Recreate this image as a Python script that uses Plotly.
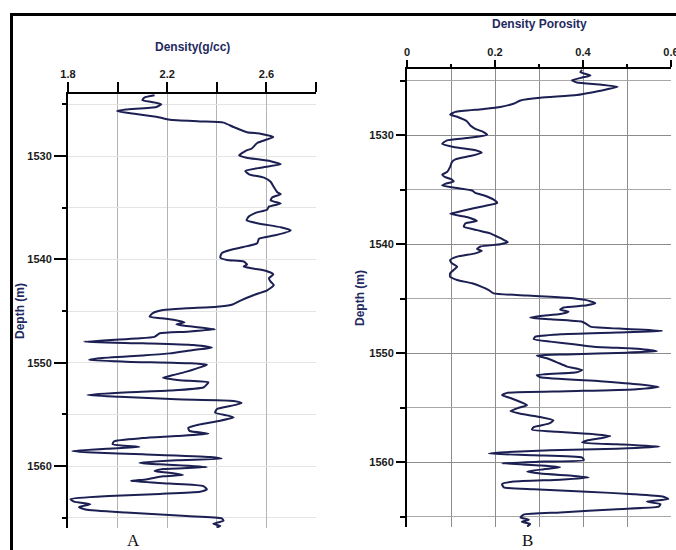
import plotly.graph_objects as go

# ---- Panel A: bulk density log ----
depth_a = [1524.13, 1524.35, 1524.6, 1524.77, 1525.0, 1525.26, 1525.5, 1525.65, 1525.84, 1526.2,
           1526.5, 1526.65, 1526.77, 1527.2, 1527.7, 1527.84, 1528.16, 1528.5, 1528.74, 1529.3,
           1529.45, 1529.94, 1530.16, 1530.5, 1530.8, 1531.13, 1531.45, 1531.77, 1532.1, 1532.5,
           1533.0, 1533.5, 1533.7, 1534.0, 1534.3, 1534.6, 1534.9, 1535.2, 1535.5, 1535.84,
           1536.2, 1536.5, 1536.9, 1537.2, 1537.7, 1538.0, 1538.45, 1538.8, 1539.1, 1539.4,
           1539.84, 1540.06, 1540.2, 1540.5, 1540.7, 1540.87, 1541.1, 1541.45, 1541.84, 1542.16,
           1542.5, 1543.0, 1543.45, 1543.94, 1544.4, 1544.6, 1544.74, 1544.9, 1545.2, 1545.55,
           1545.7, 1545.87, 1546.1, 1546.3, 1546.45, 1546.77, 1547.0, 1547.16, 1547.5, 1547.65,
           1547.97, 1548.13, 1548.3, 1548.55, 1548.77, 1549.1, 1549.3, 1549.58, 1549.74, 1549.9,
           1550.06, 1550.2, 1550.55, 1550.87, 1551.2, 1551.45, 1551.7, 1551.9, 1552.1, 1552.4,
           1552.7, 1552.9, 1553.13, 1553.3, 1553.55, 1553.7, 1553.9, 1554.2, 1554.5, 1554.84,
           1555.1, 1555.3, 1555.65, 1555.97, 1556.3, 1556.6, 1556.87, 1557.1, 1557.3, 1557.6,
           1557.9, 1558.16, 1558.3, 1558.55, 1558.7, 1558.87, 1559.13, 1559.3, 1559.45, 1559.7,
           1559.84, 1560.1, 1560.3, 1560.5, 1560.7, 1560.87, 1561.0, 1561.3, 1561.45, 1561.7,
           1561.94, 1562.26, 1562.5, 1562.7, 1562.9, 1563.2, 1563.45, 1563.7, 1563.97, 1564.2,
           1564.5, 1564.84, 1565.06, 1565.3, 1565.6, 1565.8, 1565.94]
density = [2.149, 2.108, 2.10, 2.136, 2.176, 2.156, 2.034, 1.997, 2.047, 2.156,
           2.21, 2.332, 2.427, 2.468, 2.522, 2.576, 2.628, 2.59, 2.563, 2.54,
           2.52, 2.49, 2.52, 2.617, 2.658, 2.576, 2.515, 2.53, 2.59, 2.617,
           2.63, 2.644, 2.658, 2.624, 2.617, 2.658, 2.61, 2.603, 2.556, 2.53,
           2.52, 2.563, 2.658, 2.698, 2.63, 2.57, 2.563, 2.508, 2.454, 2.42,
           2.414, 2.44, 2.508, 2.522, 2.508, 2.54, 2.597, 2.628, 2.61, 2.617,
           2.63, 2.603, 2.55, 2.50, 2.46, 2.40, 2.278, 2.183, 2.142, 2.129,
           2.176, 2.23, 2.27, 2.237, 2.278, 2.393, 2.278, 2.17, 2.149, 2.075,
           1.864, 2.10, 2.305, 2.38, 2.305, 2.21, 2.10, 1.925, 1.885, 2.034,
           2.29, 2.36, 2.32, 2.278, 2.224, 2.183, 2.25, 2.366, 2.36, 2.346,
           2.21, 2.007, 1.878, 2.007, 2.237, 2.468, 2.50, 2.454, 2.40, 2.393,
           2.44, 2.468, 2.407, 2.332, 2.285, 2.29, 2.366, 2.237, 2.10, 1.986,
           1.98, 2.088, 1.98, 1.817, 1.898, 2.10, 2.373, 2.42, 2.237, 2.088,
           2.17, 2.36, 2.183, 2.149, 2.224, 2.264, 2.183, 2.115, 2.054, 2.21,
           2.346, 2.36, 2.332, 2.17, 1.966, 1.81, 1.824, 1.89, 1.844, 1.87,
           2.034, 2.278, 2.42, 2.427, 2.386, 2.414, 2.40]

# ---- Panel B: density porosity log ----
depth_b = [1524.0, 1524.2, 1524.5, 1524.7, 1524.94, 1525.15, 1525.34, 1525.55, 1525.77, 1526.07,
           1526.3, 1526.56, 1526.8, 1527.1, 1527.4, 1527.6, 1527.85, 1528.1, 1528.3, 1528.7,
           1529.1, 1529.4, 1529.7, 1529.94, 1530.25, 1530.46, 1530.77, 1531.07, 1531.4, 1531.6,
           1531.9, 1532.2, 1532.45, 1532.9, 1533.37, 1533.6, 1533.83, 1534.05, 1534.23, 1534.45,
           1534.6, 1534.85, 1535.06, 1535.28, 1535.5, 1535.9, 1536.2, 1536.5, 1536.9, 1537.2,
           1537.5, 1537.85, 1538.07, 1538.38, 1538.7, 1539.0, 1539.3, 1539.6, 1539.8, 1540.0,
           1540.2, 1540.43, 1540.6, 1540.83, 1541.13, 1541.44, 1541.74, 1542.05, 1542.35, 1542.66,
           1542.97, 1543.27, 1543.58, 1543.9, 1544.2, 1544.5, 1544.7, 1544.9, 1545.1, 1545.4,
           1545.6, 1545.8, 1546.0, 1546.18, 1546.4, 1546.57, 1546.73, 1546.88, 1547.1, 1547.34,
           1547.55, 1547.77, 1547.95, 1548.1, 1548.26, 1548.47, 1548.7, 1548.93, 1549.17, 1549.4,
           1549.6, 1549.8, 1549.94, 1550.1, 1550.2, 1550.46, 1550.83, 1551.22, 1551.53, 1551.74,
           1552.0, 1552.2, 1552.56, 1552.87, 1553.1, 1553.32, 1553.48, 1553.63, 1553.84, 1554.1,
           1554.4, 1554.76, 1555.0, 1555.3, 1555.55, 1555.85, 1556.16, 1556.46, 1556.77, 1557.0,
           1557.2, 1557.38, 1557.6, 1557.8, 1558.0, 1558.2, 1558.35, 1558.57, 1558.75, 1558.9,
           1559.1, 1559.2, 1559.36, 1559.57, 1559.8, 1559.94, 1560.1, 1560.3, 1560.46, 1560.64,
           1560.85, 1561.04, 1561.25, 1561.4, 1561.6, 1561.77, 1562.0, 1562.3, 1562.47, 1562.7,
           1562.93, 1563.17, 1563.38, 1563.6, 1563.84, 1564.08, 1564.3, 1564.6, 1564.8, 1565.06,
           1565.27, 1565.46, 1565.67, 1565.9]
porosity = [0.398, 0.394, 0.417, 0.398, 0.375, 0.386, 0.439, 0.479, 0.455, 0.42,
            0.386, 0.303, 0.258, 0.242, 0.212, 0.17, 0.11, 0.098, 0.114, 0.136,
            0.144, 0.155, 0.174, 0.182, 0.136, 0.091, 0.08, 0.106, 0.159, 0.17,
            0.144, 0.11, 0.102, 0.098, 0.091, 0.08, 0.087, 0.102, 0.106, 0.087,
            0.08, 0.117, 0.148, 0.155, 0.174, 0.197, 0.205, 0.174, 0.129, 0.098,
            0.136, 0.159, 0.133, 0.129, 0.159, 0.189, 0.205, 0.22, 0.229, 0.212,
            0.167, 0.159, 0.17, 0.155, 0.114, 0.098, 0.102, 0.114, 0.106, 0.098,
            0.098, 0.114, 0.148, 0.17, 0.186, 0.197, 0.273, 0.364, 0.405, 0.428,
            0.409, 0.356, 0.348, 0.367, 0.348, 0.303, 0.28, 0.326, 0.398, 0.409,
            0.417, 0.5, 0.58, 0.477, 0.348, 0.292, 0.288, 0.326, 0.379, 0.424,
            0.53, 0.568, 0.5, 0.364, 0.295, 0.318, 0.341, 0.364, 0.398, 0.386,
            0.295, 0.303, 0.439, 0.53, 0.572, 0.515, 0.364, 0.227, 0.216, 0.235,
            0.254, 0.273, 0.254, 0.235, 0.258, 0.303, 0.333, 0.322, 0.288, 0.284,
            0.341, 0.409, 0.462, 0.439, 0.409, 0.398, 0.477, 0.574, 0.477, 0.326,
            0.212, 0.186, 0.288, 0.398, 0.402, 0.311, 0.216, 0.303, 0.348, 0.311,
            0.273, 0.303, 0.379, 0.413, 0.348, 0.242, 0.216, 0.22, 0.288, 0.409,
            0.515, 0.583, 0.594, 0.545, 0.576, 0.572, 0.477, 0.348, 0.265, 0.258,
            0.277, 0.261, 0.28, 0.273]

# tick values
density_ticks = [1.8, 2.2, 2.6]
density_minor = [2.0, 2.4, 2.8]
porosity_ticks = [0, 0.2, 0.4, 0.6]
porosity_minor = [0.1, 0.3, 0.5]

W, H = 676, 550
CURVE = "#1c1f52"
NAVY = "#1f2a60"
TICKFONT = dict(family="Liberation Sans, Arial, sans-serif", size=11, color="#1a1a1a", weight="bold")

def px(v):
    return v / W

def py(v):
    return 1 - v / H

fig = go.Figure()
fig.add_trace(go.Scatter(x=density, y=depth_a, mode="lines",
                         line=dict(color=CURVE, width=2, shape="spline", smoothing=0.5),
                         xaxis="x", yaxis="y", showlegend=False))
fig.add_trace(go.Scatter(x=porosity, y=depth_b, mode="lines",
                         line=dict(color=CURVE, width=2, shape="spline", smoothing=0.5),
                         xaxis="x2", yaxis="y2", showlegend=False))

common_x = dict(side="top", showline=True, linecolor="black", linewidth=2, ticks="outside",
                tickcolor="black", tickwidth=2, tickfont=TICKFONT, zeroline=False, automargin=False,
                ticklabeloverflow="allow")
common_y = dict(showline=True, linecolor="black", linewidth=2, ticks="outside", tickcolor="black",
                tickwidth=2, tickfont=TICKFONT, zeroline=False, automargin=False,
                autorange=False, dtick=10, tick0=1530, tickmode="linear")

fig.update_layout(
    width=W, height=H, margin=dict(l=0, r=0, t=0, b=0),
    paper_bgcolor="white", plot_bgcolor="white", template="none",
    xaxis=dict(common_x, domain=[px(68), px(316)], range=[1.8, 2.8], anchor="y",
               tickmode="array", tickvals=density_ticks, ticktext=["1.8", "2.2", "2.6"],
               ticklen=10, gridcolor="#b4b4b4", gridwidth=1,
               minor=dict(tickmode="array", tickvals=density_minor, ticklen=10, tickwidth=2,
                          tickcolor="black", showgrid=True, gridcolor="#b4b4b4", ticks="outside")),
    yaxis=dict(common_y, domain=[py(528), py(94)], range=[1566.0, 1524.0], anchor="x",
               ticklen=12, gridcolor="#e4e4e4",
               minor=dict(dtick=5, tick0=1525, ticklen=4, tickwidth=2, tickcolor="black",
                          showgrid=True, gridcolor="#e4e4e4", ticks="outside")),
    xaxis2=dict(common_x, domain=[px(407), px(671)], range=[0, 0.6], anchor="y2",
                tickmode="array", tickvals=porosity_ticks, ticktext=["0", "0.2", "0.4", "0.6"],
                ticklen=7, gridcolor="#8c8c8c", gridwidth=1,
                minor=dict(tickmode="array", tickvals=porosity_minor, ticklen=3, tickwidth=2,
                           tickcolor="black", showgrid=True, gridcolor="#8c8c8c", ticks="outside")),
    yaxis2=dict(common_y, domain=[py(527), py(69.3)], range=[1565.94, 1523.94], anchor="x2",
                ticklen=9, gridcolor="#8c8c8c",
                minor=dict(dtick=5, tick0=1525, ticklen=5, tickwidth=2, tickcolor="black",
                           showgrid=True, gridcolor="#a8a8a8", ticks="outside")),
)

title_font = dict(family="Liberation Sans, Arial, sans-serif", size=12, color=NAVY, weight="bold")
annotations = [
    dict(text="Density(g/cc)", x=px(192), y=py(47), xref="paper", yref="paper",
         showarrow=False, font=title_font, xanchor="center", yanchor="middle"),
    dict(text="Density Porosity", x=px(539), y=py(24), xref="paper", yref="paper",
         showarrow=False, font=title_font, xanchor="center", yanchor="middle"),
    dict(text="Depth (m)", x=px(20), y=py(311), xref="paper", yref="paper", textangle=-90,
         showarrow=False, font=title_font, xanchor="center", yanchor="middle"),
    dict(text="Depth (m)", x=px(360), y=py(298), xref="paper", yref="paper", textangle=-90,
         showarrow=False, font=title_font, xanchor="center", yanchor="middle"),
    dict(text="A", x=px(133), y=py(540), xref="paper", yref="paper", showarrow=False,
         font=dict(family="Liberation Serif, Times New Roman, serif", size=17, color="#111"),
         xanchor="center", yanchor="middle"),
    dict(text="B", x=px(527), y=py(540), xref="paper", yref="paper", showarrow=False,
         font=dict(family="Liberation Serif, Times New Roman, serif", size=17, color="#111"),
         xanchor="center", yanchor="middle"),
]
fig.update_layout(annotations=annotations)

# outer frame (extends past the right and bottom edges as in the reference)
fig.add_shape(type="rect", xref="paper", yref="paper", x0=px(11.5), y0=-0.05, x1=1.05, y1=py(14.5),
              line=dict(color="black", width=3), fillcolor="rgba(0,0,0,0)", layer="above")

# remove the browser's default page margin so the 676x550 figure fills the window exactly
fig.write_html("out.html", config={"displayModeBar": False},
               post_script="document.body.style.margin='0';document.body.style.overflow='hidden';")
